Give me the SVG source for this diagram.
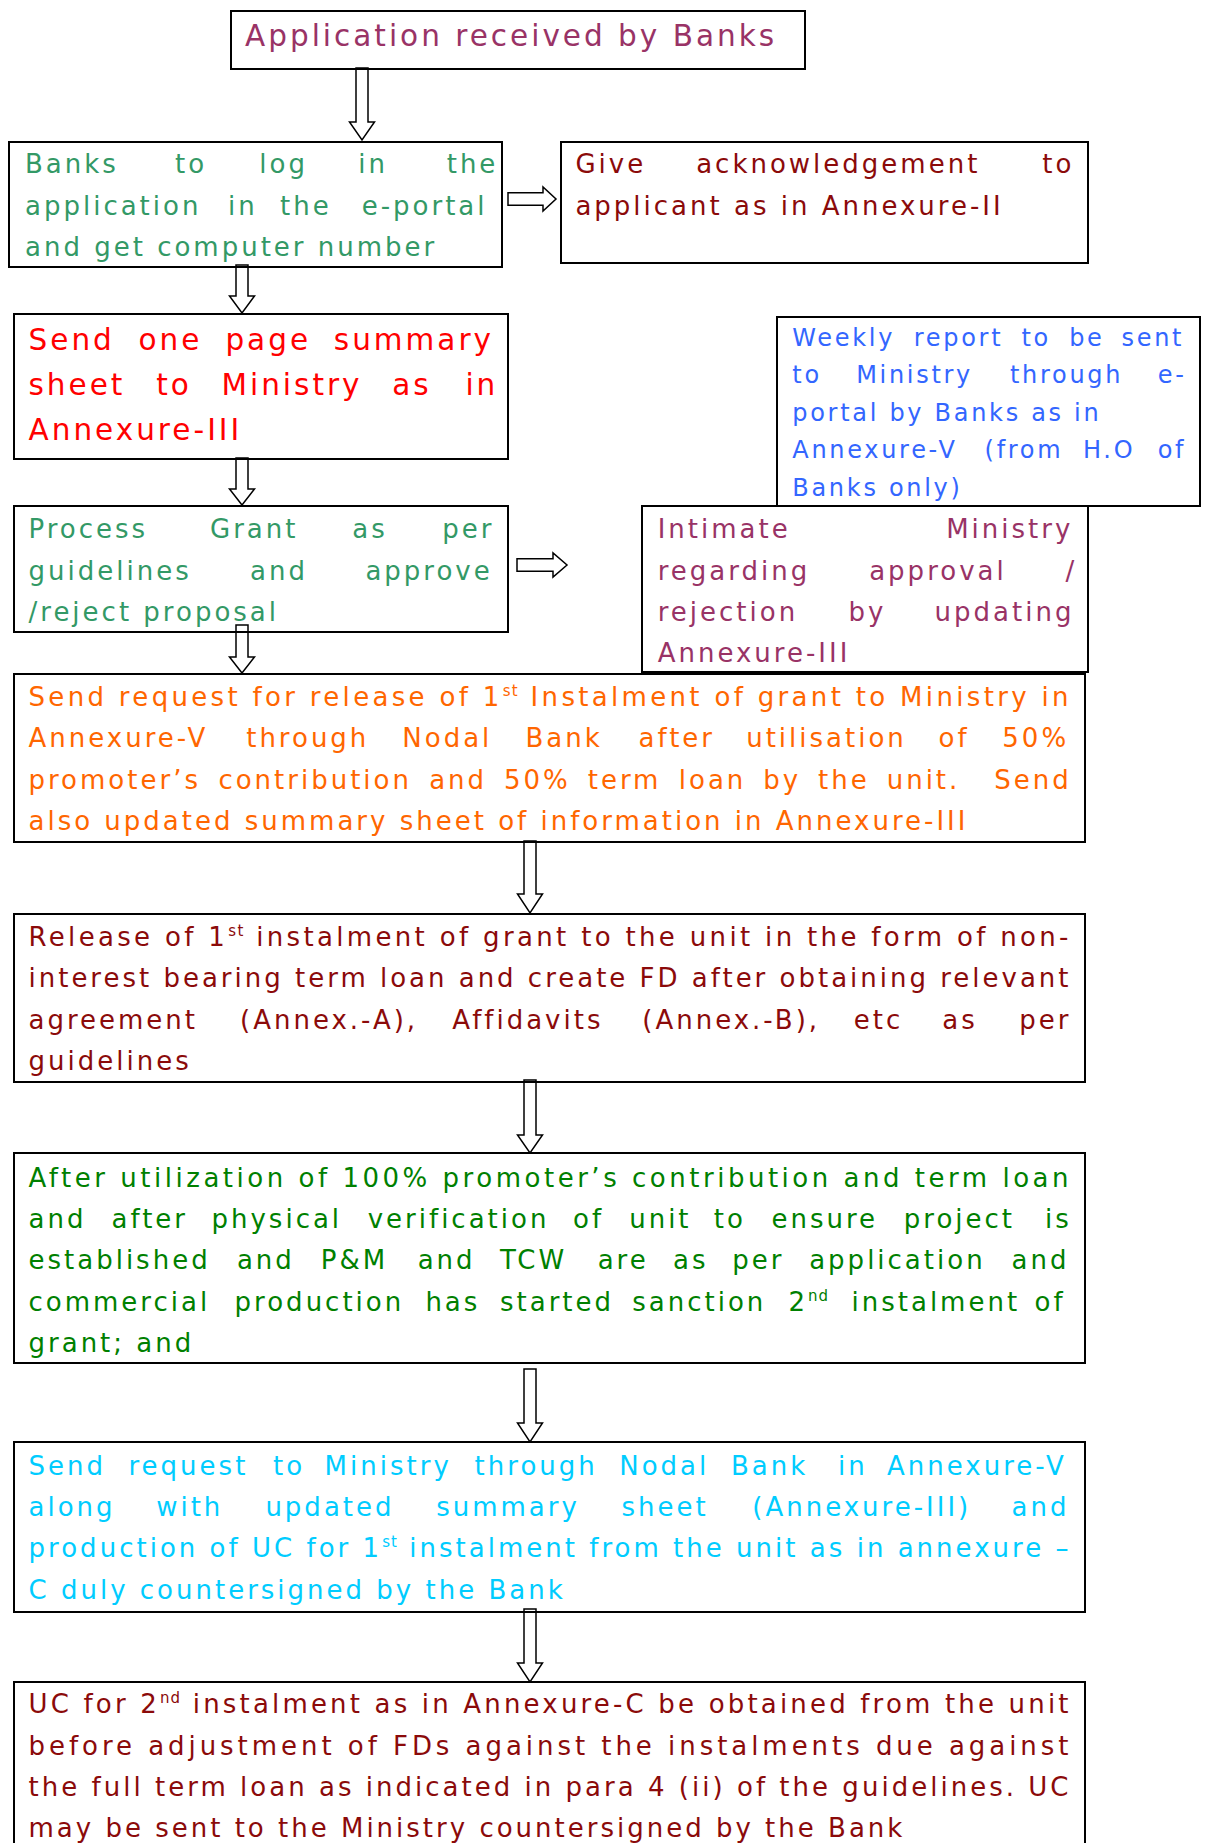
<svg xmlns="http://www.w3.org/2000/svg" width="1206" height="1843" viewBox="0 0 1206 1843">
<style>
text { font-family: "DejaVu Sans", Verdana, sans-serif; font-size: 26px; letter-spacing: 3px; }
.big { font-size: 29.5px; }
.small { font-size: 24px; letter-spacing: 2.7px; }
.sup { font-size: 15px; letter-spacing: 1px; }
.box { fill: none; stroke: #000; stroke-width: 2; }
.arrow { fill: #fff; stroke: #000; stroke-width: 1.5; }
.c-purple { fill: #993366; }
.c-green { fill: #339966; }
.c-dred { fill: #8B0A0A; }
.c-red { fill: #FF0000; }
.c-blue { fill: #3366FF; }
.c-orange { fill: #FF6600; }
.c-dgreen { fill: #008000; }
.c-cyan { fill: #00CCFF; }
</style>
<rect width="1206" height="1843" fill="#fff"/>
<g id="connectors">
  <polygon class="arrow" points="356,68 368,68 368,122 374.5,122 362,140 349.5,122 356,122"/>
  <polygon class="arrow" points="236,265 248,265 248,296 254.5,296 242,313 229.5,296 236,296"/>
  <polygon class="arrow" points="236,458 248,458 248,489 254.5,489 242,505 229.5,489 236,489"/>
  <polygon class="arrow" points="236,625 248,625 248,657 254.5,657 242,673 229.5,657 236,657"/>
  <polygon class="arrow" points="524,841 536,841 536,894 542.5,894 530,913 517.5,894 524,894"/>
  <polygon class="arrow" points="524,1080 536,1080 536,1135 542.5,1135 530,1153 517.5,1135 524,1135"/>
  <polygon class="arrow" points="524,1369 536,1369 536,1423 542.5,1423 530,1442 517.5,1423 524,1423"/>
  <polygon class="arrow" points="524,1609 536,1609 536,1663 542.5,1663 530,1682 517.5,1663 524,1663"/>
  <polygon class="arrow" points="508,192.7 543,192.7 543,187 556,199 543,211 543,205.3 508,205.3"/>
  <polygon class="arrow" points="517,558.7 553,558.7 553,553 567,565 553,577 553,571.3 517,571.3"/>
</g>
<g id="n1">
  <rect class="box" x="231" y="11" width="574" height="58"/>
  <text class="c-purple big" x="245" y="46">Application received by Banks</text>
</g>
<g id="n2">
  <rect class="box" x="9" y="142" width="493" height="125"/>
  <text class="c-green" y="173.3"><tspan x="25">Banks</tspan><tspan x="175">to</tspan><tspan x="259.3">log</tspan><tspan x="358.3">in</tspan><tspan x="446.7">the</tspan></text>
  <text class="c-green" y="214.7"><tspan x="25">application</tspan><tspan x="228">in</tspan><tspan x="280">the</tspan><tspan x="361.7">e-portal</tspan></text>
  <text class="c-green" x="25" y="256">and get computer number</text>
</g>
<g id="n3">
  <rect class="box" x="561" y="142" width="527" height="121"/>
  <text class="c-dred" y="173.3"><tspan x="575.4">Give</tspan><tspan x="696.2">acknowledgement</tspan><tspan x="1042.3">to</tspan></text>
  <text class="c-dred" x="575.4" y="214.7">applicant as in Annexure-II</text>
</g>
<g id="n4">
  <rect class="box" x="14" y="314" width="494" height="145"/>
  <text class="c-red big" y="349.5"><tspan x="28.5">Send</tspan><tspan x="138.5">one</tspan><tspan x="225.4">page</tspan><tspan x="333.8">summary</tspan></text>
  <text class="c-red big" y="394.5"><tspan x="28.5">sheet</tspan><tspan x="156.2">to</tspan><tspan x="221.5">Ministry</tspan><tspan x="392.3">as</tspan><tspan x="465.4">in</tspan></text>
  <text class="c-red big" x="28.5" y="439.5">Annexure-III</text>
</g>
<g id="n5">
  <rect class="box" x="777" y="317" width="423" height="189"/>
  <text class="c-blue small" y="345.7"><tspan x="792.3">Weekly</tspan><tspan x="913.8">report</tspan><tspan x="1021.5">to</tspan><tspan x="1069.2">be</tspan><tspan x="1121.5">sent</tspan></text>
  <text class="c-blue small" y="383.3"><tspan x="792.3">to</tspan><tspan x="856.2">Ministry</tspan><tspan x="1010">through</tspan><tspan x="1157.7">e-</tspan></text>
  <text class="c-blue small" x="792.3" y="420.7">portal by Banks as in</text>
  <text class="c-blue small" y="458.3"><tspan x="792.3">Annexure-V</tspan><tspan x="984.6">(from</tspan><tspan x="1083">H.O</tspan><tspan x="1157.7">of</tspan></text>
  <text class="c-blue small" x="792.3" y="496">Banks only)</text>
</g>
<g id="n6">
  <rect class="box" x="14" y="506" width="494" height="126"/>
  <text class="c-green" y="538.3"><tspan x="28.5">Process</tspan><tspan x="210">Grant</tspan><tspan x="352.3">as</tspan><tspan x="442.3">per</tspan></text>
  <text class="c-green" y="579.6"><tspan x="28.5">guidelines</tspan><tspan x="250">and</tspan><tspan x="365.4">approve</tspan></text>
  <text class="c-green" x="28.5" y="620.7">/reject proposal</text>
</g>
<g id="n7">
  <rect class="box" x="642" y="506" width="446" height="166"/>
  <text class="c-purple" y="538.3"><tspan x="657.7">Intimate</tspan><tspan x="946.2">Ministry</tspan></text>
  <text class="c-purple" y="579.6"><tspan x="657.7">regarding</tspan><tspan x="869.2">approval</tspan><tspan x="1065.4">/</tspan></text>
  <text class="c-purple" y="620.7"><tspan x="657.7">rejection</tspan><tspan x="848.5">by</tspan><tspan x="934.6">updating</tspan></text>
  <text class="c-purple" x="657.7" y="662">Annexure-III</text>
</g>
<g id="n8">
  <rect class="box" x="14" y="674" width="1071" height="168"/>
  <text class="c-orange" x="28.5" y="706" textLength="1043" lengthAdjust="spacing">Send request for release of 1<tspan class="sup" dy="-10">st</tspan><tspan dy="10"> Instalment of grant to Ministry in</tspan></text>
  <text class="c-orange" y="747.3"><tspan x="28.5">Annexure-V</tspan><tspan x="246.2">through</tspan><tspan x="402.3">Nodal</tspan><tspan x="525.4">Bank</tspan><tspan x="638.5">after</tspan><tspan x="746.2">utilisation</tspan><tspan x="938.5">of</tspan><tspan x="1002.3">50%</tspan></text>
  <text class="c-orange" y="788.7"><tspan x="28.5">promoter’s</tspan><tspan x="218.4">contribution</tspan><tspan x="429.2">and</tspan><tspan x="504">50%</tspan><tspan x="587.7">term</tspan><tspan x="678.8">loan</tspan><tspan x="763.3">by</tspan><tspan x="818.1">the</tspan><tspan x="886.7">unit.</tspan><tspan x="994.3">Send</tspan></text>
  <text class="c-orange" x="28.5" y="830">also updated summary sheet of information in Annexure-III</text>
</g>
<g id="n9">
  <rect class="box" x="14" y="914" width="1071" height="168"/>
  <text class="c-dred" x="28.5" y="946" textLength="1043" lengthAdjust="spacing">Release of 1<tspan class="sup" dy="-10">st</tspan><tspan dy="10"> instalment of grant to the unit in the form of non-</tspan></text>
  <text class="c-dred" x="28.5" y="987.3" textLength="1043" lengthAdjust="spacing">interest bearing term loan and create FD after obtaining relevant</text>
  <text class="c-dred" y="1028.7"><tspan x="28.5">agreement</tspan><tspan x="240">(Annex.-A),</tspan><tspan x="452.3">Affidavits</tspan><tspan x="642.3">(Annex.-B),</tspan><tspan x="853.8">etc</tspan><tspan x="942.3">as</tspan><tspan x="1019.2">per</tspan></text>
  <text class="c-dred" x="28.5" y="1070">guidelines</text>
</g>
<g id="n10">
  <rect class="box" x="14" y="1153" width="1071" height="210"/>
  <text class="c-dgreen" x="28.5" y="1186.7" textLength="1043" lengthAdjust="spacing">After utilization of 100% promoter’s contribution and term loan</text>
  <text class="c-dgreen" y="1228"><tspan x="28.5">and</tspan><tspan x="111.5">after</tspan><tspan x="211.5">physical</tspan><tspan x="367.7">verification</tspan><tspan x="573.1">of</tspan><tspan x="629.2">unit</tspan><tspan x="713.8">to</tspan><tspan x="771.5">ensure</tspan><tspan x="903.8">project</tspan><tspan x="1045">is</tspan></text>
  <text class="c-dgreen" y="1269.3"><tspan x="28.5">established</tspan><tspan x="236.9">and</tspan><tspan x="320.8">P&amp;M</tspan><tspan x="417.7">and</tspan><tspan x="500">TCW</tspan><tspan x="597.7">are</tspan><tspan x="673.1">as</tspan><tspan x="732.3">per</tspan><tspan x="809.2">application</tspan><tspan x="1011.5">and</tspan></text>
  <text class="c-dgreen" y="1310.7"><tspan x="28.5">commercial</tspan><tspan x="234.6">production</tspan><tspan x="425.4">has</tspan><tspan x="500">started</tspan><tspan x="632.3">sanction</tspan><tspan x="788.5">2</tspan><tspan class="sup" dy="-10">nd</tspan><tspan x="851.5" dy="10">instalment</tspan><tspan x="1034.6">of</tspan></text>
  <text class="c-dgreen" x="28.5" y="1352">grant; and</text>
</g>
<g id="n11">
  <rect class="box" x="14" y="1442" width="1071" height="170"/>
  <text class="c-cyan" y="1474.5"><tspan x="28.5">Send</tspan><tspan x="128.5">request</tspan><tspan x="273.1">to</tspan><tspan x="324.6">Ministry</tspan><tspan x="474.6">through</tspan><tspan x="619.2">Nodal</tspan><tspan x="731">Bank</tspan><tspan x="838">in</tspan><tspan x="887">Annexure-V</tspan></text>
  <text class="c-cyan" y="1516"><tspan x="28.5">along</tspan><tspan x="156.2">with</tspan><tspan x="265.4">updated</tspan><tspan x="436.2">summary</tspan><tspan x="621.5">sheet</tspan><tspan x="752.3">(Annexure-III)</tspan><tspan x="1011.5">and</tspan></text>
  <text class="c-cyan" x="28.5" y="1557.3" textLength="1043" lengthAdjust="spacing">production of UC for 1<tspan class="sup" dy="-10">st</tspan><tspan dy="10"> instalment from the unit as in annexure –</tspan></text>
  <text class="c-cyan" x="28.5" y="1598.5">C duly countersigned by the Bank</text>
</g>
<g id="n12">
  <rect class="box" x="14" y="1682" width="1071" height="180"/>
  <text class="c-dred" x="28.5" y="1713.3" textLength="1043" lengthAdjust="spacing">UC for 2<tspan class="sup" dy="-10">nd</tspan><tspan dy="10"> instalment as in Annexure-C be obtained from the unit</tspan></text>
  <text class="c-dred" x="28.5" y="1755" textLength="1043" lengthAdjust="spacing">before adjustment of FDs against the instalments due against</text>
  <text class="c-dred" x="28.5" y="1796" textLength="1043" lengthAdjust="spacing">the full term loan as indicated in para 4 (ii) of the guidelines. UC</text>
  <text class="c-dred" x="28.5" y="1836.7">may be sent to the Ministry countersigned by the Bank</text>
</g>
</svg>
